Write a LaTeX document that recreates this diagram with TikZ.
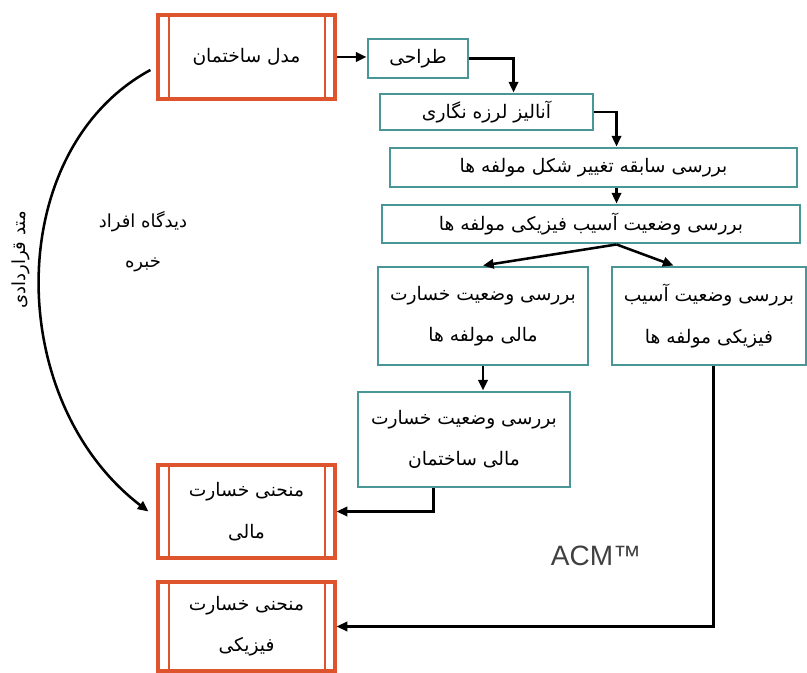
\documentclass[tikz,border=0pt]{standalone}
\usepackage{fontspec}
\newfontfamily\farsi[Script=Arabic]{DejaVu Sans}
\newfontfamily\acmfont{Liberation Sans}
\TeXXeTstate=1
\usetikzlibrary{arrows.meta}
\definecolor{boxteal}{RGB}{74,150,150}
\definecolor{boxorange}{RGB}{222,84,44}
\newcommand{\fatxt}[1]{\beginR #1\endR}
\tikzset{
	stage/.style={draw=boxteal, line width=2.2pt, fill=white, inner sep=0pt,
		font=\farsi\fontsize{14}{31}\selectfont, align=center},
	result/.style={draw=boxorange, line width=2.4pt, fill=white, inner sep=0pt,
		font=\farsi\fontsize{14}{31}\selectfont, align=center,
		path picture={
			\draw[boxorange, line width=2pt] ([xshift=8.25pt]path picture bounding box.north west) -- ([xshift=8.25pt]path picture bounding box.south west);
			\draw[boxorange, line width=2pt] ([xshift=-7.5pt]path picture bounding box.north east) -- ([xshift=-7.5pt]path picture bounding box.south east);
		}},
	flow/.style={line width=1.9pt, -{Triangle[length=8pt,width=7pt]}},
}
\begin{document}
\begin{tikzpicture}[x=0.75pt, y=-0.75pt]
	\useasboundingbox (0,0) rectangle (807,673);

	% result boxes
	\node[result, minimum width=132.75pt, minimum height=63pt] (model) at (246.5,57) {\fatxt{مدل ساختمان}};
	\node[result, minimum width=132.75pt, minimum height=69.75pt] (fincurve) at (246.5,511.5) {\fatxt{منحنی خسارت}\\\fatxt{مالی}};
	\node[result, minimum width=132.75pt, minimum height=66.75pt] (phycurve) at (246.5,626.5) {\fatxt{منحنی خسارت}\\\fatxt{فیزیکی}};

	% analysis stages
	\node[stage, minimum width=75pt, minimum height=29.25pt] (design) at (418,58.5) {\fatxt{طراحی}};
	\node[stage, minimum width=159.75pt, minimum height=27pt] (seismic) at (486.5,112) {\fatxt{آنالیز لرزه نگاری}};
	\node[stage, minimum width=305.25pt, minimum height=29.25pt] (history) at (593.5,167.5) {\fatxt{بررسی سابقه تغییر شکل مولفه ها}};
	\node[stage, minimum width=313.5pt, minimum height=28.5pt] (physcomp) at (591,224) {\fatxt{بررسی وضعیت آسیب فیزیکی مولفه ها}};
	\node[stage, minimum width=157.5pt, minimum height=73.5pt] (fincomp) at (483,316) {\fatxt{بررسی وضعیت خسارت}\\\fatxt{مالی مولفه ها}};
	\node[stage, minimum width=145.5pt, minimum height=73.5pt] (physdmg) at (709,316) {\fatxt{بررسی وضعیت آسیب}\\\fatxt{فیزیکی مولفه ها}};
	\node[stage, minimum width=159pt, minimum height=71.25pt] (finbldg) at (464,439.5) {\fatxt{بررسی وضعیت خسارت}\\\fatxt{مالی ساختمان}};

	% free labels
	\node[font=\farsi\fontsize{13.5}{30}\selectfont, align=center] (experts) at (143,242) {\fatxt{دیدگاه افراد}\\\fatxt{خبره}};
	\node[font=\farsi\fontsize{13.5}{16}\selectfont, rotate=90] (method) at (21,260) {\fatxt{متد قراردادی}};
	\node[font=\acmfont\fontsize{21}{24}\selectfont, text=black!75] (acm) at (596,556) {ACM™};

	% connectors
	\draw[flow] (model.east) -- (model.east -| design.west);
	\draw[flow] (design.east) -| ([xshift=101.25pt]seismic.north west);
	\draw[flow] (seismic.east) -| ([xshift=171pt]history.north west);
	\draw[flow] ([xshift=171pt]history.south west) -- ([xshift=177pt]physcomp.north west);
	\draw[flow] ([xshift=177pt]physcomp.south west) -- (fincomp.north);
	\draw[flow] ([xshift=177pt]physcomp.south west) -- ([xshift=47.25pt]physdmg.north west);
	\draw[flow] (fincomp.south) -- (fincomp.south |- finbldg.north);
	\draw[flow] ([xshift=57.75pt]finbldg.south west) |- (fincurve.east);
	\draw[flow] ([xshift=77.25pt]physdmg.south west) |- (phycurve.east);
	\draw[flow] ([xshift=-4.5pt,yshift=-9.75pt]model.west) .. controls (3,150) and (3,400) .. ([xshift=-6pt]fincurve.west);
\end{tikzpicture}
\end{document}
